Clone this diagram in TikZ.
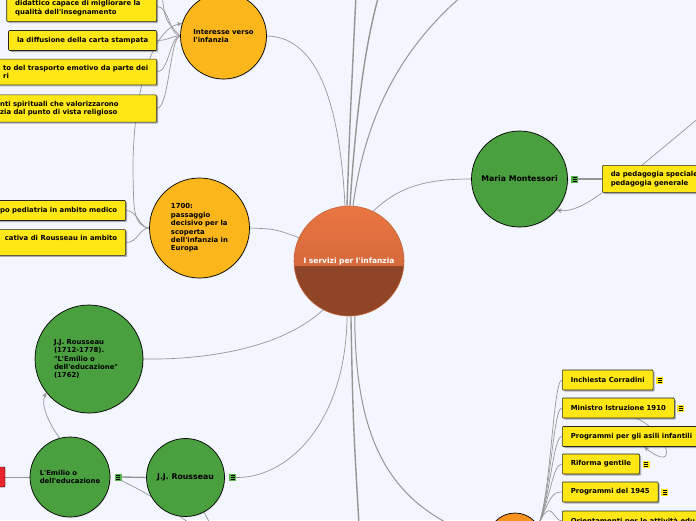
\documentclass[tikz,border=0pt]{standalone}
\usepackage{fontspec}
\setmainfont{DejaVu Sans}[Ligatures=TeXOff]
\usetikzlibrary{arrows.meta,positioning,calc,shadows,backgrounds}

\definecolor{paper}{RGB}{243,246,255}
\definecolor{linkgray}{RGB}{150,150,150}
\definecolor{ballorange}{RGB}{251,182,27}
\definecolor{deeporange}{RGB}{247,146,30}
\definecolor{ballgreen}{RGB}{74,159,62}
\definecolor{notegreen}{RGB}{86,178,72}
\definecolor{boxyellow}{RGB}{255,231,22}
\definecolor{boxred}{RGB}{232,36,44}
\definecolor{centretop}{RGB}{234,118,66}
\definecolor{centremid}{RGB}{196,96,56}
\definecolor{centrelow}{RGB}{143,69,38}

\newcommand{\smallbf}{\fontsize{6.9}{8.4}\selectfont\bfseries}
\newcommand{\bigbf}{\fontsize{7.8}{9}\selectfont\bfseries}

\begin{document}
\begin{tikzpicture}[x=1pt,y=-1pt,
  ball/.style={circle, draw=black, line width=0.7pt, fill=#1, align=left, font=\smallbf, inner sep=0pt,
    drop shadow={shadow xshift=0.8pt, shadow yshift=-0.8pt, opacity=0.2}},
  notebox/.style={rectangle, draw=black!85, line width=0.6pt, fill=boxyellow, rounded corners=1pt, align=left,
    font=\smallbf, inner xsep=8.5pt, inner ysep=6pt, minimum height=20pt,
    drop shadow={shadow xshift=1.5pt, shadow yshift=-1.5pt, fill=black!60, opacity=0.5}},
  noteicon/.style={rectangle, fill=#1, minimum size=7pt, inner sep=0pt,
    path picture={\foreach \k in {-1.8,0,1.8}
      \draw[line width=0.6pt] ([xshift=-2pt,yshift=\k pt]path picture bounding box.center) -- ++(4pt,0pt);}},
  link/.style={draw=linkgray, line width=1.4pt},
  thinlink/.style={draw=linkgray, line width=0.7pt},
  arrowlink/.style={thinlink, -{Stealth[length=5pt,width=4.5pt]}}]
\useasboundingbox (0,0) rectangle (696,520);

% central topic
\node[circle, minimum size=110pt, draw=centremid, line width=0.6pt, text=white,
  font=\fontsize{7.5}{9}\selectfont\bfseries,
  path picture={
    \shade[top color=centretop, bottom color=centremid] (path picture bounding box.north west) rectangle ([yshift=-5pt]path picture bounding box.east);
    \fill[centrelow] ([yshift=-5pt]path picture bounding box.west) rectangle (path picture bounding box.south east);}]
  (centre) at (349,261) {I servizi per l'infanzia};

% main circles
\node[ball=ballorange, minimum size=86pt] (interesse) at (223.5,36) {Interesse verso\\l'infanzia};
\node[ball=ballorange, minimum size=100pt] (settecento) at (199.5,228) {1700:\\passaggio\\decisivo per la\\scoperta\\dell'infanzia in\\Europa};
\node[ball=ballgreen, minimum size=108pt, text width=70pt] (rousseaubio) at (89,359) {J.J. Rousseau\\(1712-1778).\\"L'Emilio o\\dell'educazione"\\(1762)};
\node[ball=ballgreen, minimum size=80pt] (emilio) at (70,477) {L'Emilio o\\dell'educazione};
\node[ball=ballgreen, minimum size=78pt, font=\bigbf] (rousseau) at (185.5,477.5) {J.J. Rousseau};
\node[ball=ballgreen, minimum size=96pt, font=\bigbf] (montessori) at (519.5,179) {Maria Montessori};
\node[ball=deeporange, minimum size=54pt] (leggi) at (515,540) {};

% note icons
\node[noteicon=notegreen, right=4pt of emilio] (emilionote) {};
\node[noteicon=notegreen, right=4pt of rousseau] (rousseaunote) {};
\node[noteicon=notegreen, right=3pt of montessori] (montessorinote) {};

% boxes on the left
\node[notebox, anchor=east, text width=133pt] (didattico) at (157,6.5) {\mbox{}\\didattico capace di migliorare la\\qualità dell'insegnamento};
\node[notebox, anchor=east] (carta) at (157,40.5) {la diffusione della carta stampata};
\node[notebox, anchor=east] (trasporto) at (157,72) {to del trasporto emotivo da parte dei\\ri};
\node[notebox, anchor=east, text width=148pt] (spirituali) at (157,108.5) {nti spirituali che valorizzarono\\zia dal punto di vista religioso};
\node[notebox, anchor=east] (pediatria) at (126,210.5) {po pediatria in ambito medico};
\node[notebox, anchor=east] (ambito) at (126,242.5) {cativa di Rousseau in ambito\\\mbox{}};
\node[rectangle, draw=black, fill=boxred, rounded corners=1pt, minimum width=10pt, minimum height=20pt, inner sep=0pt] (rosso) at (0,477) {};

% boxes on the right
\node[notebox, anchor=west] (pedagogia) at (602,179) {da pedagogia speciale\\pedagogia generale};
\foreach \nm/\txt/\y in {corradini/Inchiesta Corradini/380, ministro/Ministro Istruzione 1910/408,
    asili/Programmi per gli asili infantili/436.5, gentile/Riforma gentile/464,
    p1945/Programmi del 1945/492, orientamenti/Orientamenti per le attività edu/521}
  \node[notebox, anchor=west] (\nm) at (562,\y) {\txt};
\foreach \nm in {corradini,ministro,gentile,p1945}
  \node[noteicon=boxyellow, right=2.5pt of \nm] (\nm-note) {};

% loose ends outside the page
\coordinate (topA) at (356,-5);
\coordinate (topB) at (379,-5);
\coordinate (topC) at (463,-5);
\coordinate (topleft) at (162,-5);
\coordinate (botA) at (359,525);
\coordinate (botemilio) at (192,525);
\coordinate (botrousseau) at (211,525);
\coordinate (corner) at (700,117);

\begin{scope}[on background layer]
\fill[paper] (0,0) rectangle (696,520);
% from the centre
\draw[link] ([xshift=-2pt]centre.north) .. controls (350,120) .. (topA);
\draw[link] ([xshift=1pt]centre.north) .. controls (356,110) and (366,40) .. (topB);
\draw[link, line width=1pt] ([xshift=4pt]centre.north) .. controls (366,110) and (405,45) .. (topC);
\draw[thinlink] ([xshift=-4pt]centre.north) .. controls (340,110) and (320,37) .. (interesse.east);
\draw[thinlink] (centre.155) .. controls (275,229) .. (settecento.east);
\draw[thinlink] (centre.64) .. controls (400,185) and (430,179) .. (montessori.west);
\draw[thinlink] (centre.242) .. controls (280,350) and (200,360) .. (rousseaubio.east);
\draw[thinlink] (centre.268) .. controls (346,420) and (290,478) .. (rousseaunote.east);
\draw[link] (centre.272) .. controls (353,420) .. (botA);
\draw[link, line width=1pt] (centre.276) .. controls (355,450) and (395,510) .. (leggi.west);
% left branches
\foreach \nm in {didattico,carta,trasporto,spirituali}
  \draw[thinlink] (\nm.east) .. controls +(12,0) and +(-10,0) .. (interesse.west);
\draw[thinlink] (topleft) .. controls (165,20) .. (interesse.west);
\draw[arrowlink] (settecento.west) .. controls (132,226) and (134,205) .. (133,175)
  .. controls (132,100) and (150,30) .. (interesse.163);
\foreach \nm in {pediatria,ambito}
  \draw[thinlink] (\nm.east) .. controls +(12,0) and +(-10,0) .. (settecento.west);
% Rousseau
\draw[thinlink] (rosso.east) -- (emilio.west);
\draw[link] (emilionote.east) -- (rousseau.west);
\draw[thinlink] (emilionote.south east) .. controls (150,495) .. (botemilio);
\draw[arrowlink] (emilio.105) .. controls (50,425) and (40,405) .. (rousseaubio.218);
\draw[thinlink] (rousseau.-62) -- (botrousseau);
% Montessori
\draw[link] (montessorinote.east) -- (pedagogia.west);
\draw[arrowlink] (pedagogia.south west) .. controls (585,205) and (572,212) .. (montessori.-40);
\draw[thinlink] ([xshift=40pt]pedagogia.north west) -- (corner);
% laws and programmes
\foreach \nm in {corradini,ministro,asili,gentile,p1945,orientamenti}
  \draw[thinlink] (leggi.32) .. controls (551,495) and +(-9,0) .. (\nm.west);
\draw[arrowlink] ([xshift=18pt]ministro.south) .. controls (668,432) and (680,475) .. ([xshift=82pt]asili.south west);
\end{scope}
\end{tikzpicture}
\end{document}
